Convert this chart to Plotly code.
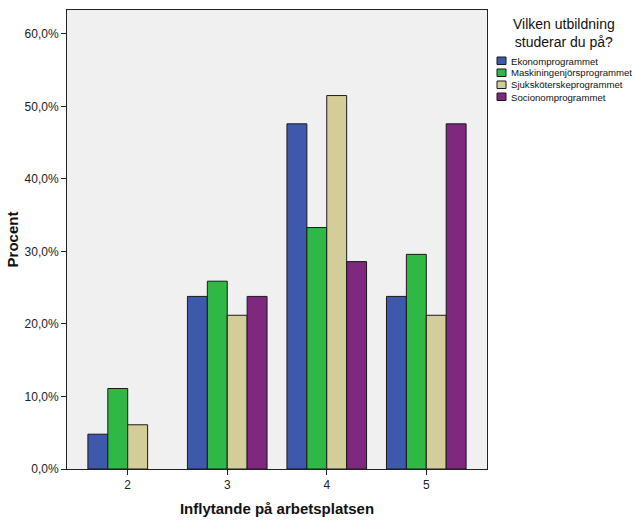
import plotly.graph_objects as go

categories = [2, 3, 4, 5]
series_names = ["Ekonomprogrammet", "Maskiningenjörsprogrammet",
                "Sjuksköterskeprogrammet", "Socionomprogrammet"]
ekonom = [4.8, 23.8, 47.6, 23.8]
maskin = [11.1, 25.9, 33.3, 29.6]
sjuk = [6.1, 21.2, 51.5, 21.2]
socionom = [None, 23.8, 28.6, 47.6]
y_tickvals = [0, 10, 20, 30, 40, 50, 60]
y_ticktext = ["0,0%", "10,0%", "20,0%", "30,0%", "40,0%", "50,0%", "60,0%"]
legend_title = "Vilken utbildning<br>studerar du på?"

colors = ["#3E58AC", "#2FB845", "#D3CE99", "#7E287F"]
series = [ekonom, maskin, sjuk, socionom]

W, H = 635, 524
L, R, T, B = 67, 148, 10, 55
pw, ph = W - L - R, H - T - B


def px_x(px):
    return (px - L) / pw


def px_y(py):
    return (H - B - py) / ph


fig = go.Figure()
for name, vals, col in zip(series_names, series, colors):
    fig.add_trace(go.Bar(
        x=categories, y=vals, name=name, showlegend=False,
        marker=dict(color=col, line=dict(color="#1a1a1a", width=1)),
    ))

font = "Liberation Sans, Arial, sans-serif"

shapes = []
annotations = [dict(
    text=legend_title, xref="paper", yref="paper",
    x=px_x(564), y=px_y(33), xanchor="center", yanchor="middle",
    showarrow=False, align="center",
    font=dict(size=14, family=font, color="#111"),
)]
for i, (name, col) in enumerate(zip(series_names, colors)):
    top = 57 + i * 12
    shapes.append(dict(
        type="rect", xref="paper", yref="paper",
        x0=px_x(497), x1=px_x(506), y0=px_y(top), y1=px_y(top + 7.5),
        fillcolor=col, line=dict(color="#1a1a1a", width=1),
    ))
    annotations.append(dict(
        text=name, xref="paper", yref="paper",
        x=px_x(509), y=px_y(top + 4), xanchor="left", yanchor="middle",
        showarrow=False, font=dict(size=9.6, family=font, color="#111"),
    ))

fig.update_layout(
    width=W, height=H,
    margin=dict(l=L, r=R, t=T, b=B, autoexpand=False),
    barmode="group", bargap=0.2, bargroupgap=0,
    plot_bgcolor="#F0F0F0", paper_bgcolor="white",
    font=dict(family=font, size=12, color="#222"),
    showlegend=False,
    shapes=shapes, annotations=annotations,
    xaxis=dict(
        range=[1.39, 5.61], tickvals=categories, ticktext=[str(c) for c in categories],
        ticks="outside", ticklen=5, tickcolor="#222", automargin=False,
        showline=True, linecolor="#222", linewidth=1, mirror=True,
        showgrid=False, zeroline=False,
        title=dict(text="<b>Inflytande på arbetsplatsen</b>", font=dict(size=15, family=font, color="#111"), standoff=12),
    ),
    yaxis=dict(
        range=[0, 63.3], tickvals=y_tickvals, ticktext=y_ticktext,
        ticks="outside", ticklen=5, tickcolor="#222", automargin=False,
        showline=True, linecolor="#222", linewidth=1, mirror=True,
        showgrid=False, zeroline=False,
        title=dict(text="<b>Procent</b>", font=dict(size=15, family=font, color="#111"), standoff=6),
    ),
)
fig.write_html("out.html", config={"displayModeBar": False},
               post_script="document.body.style.margin='0';document.body.style.overflow='hidden';"
                           "var t=document.querySelector('.ytitle');if(t){t.setAttribute('transform',(t.getAttribute('transform')||'')+' translate(0,4)');}")
